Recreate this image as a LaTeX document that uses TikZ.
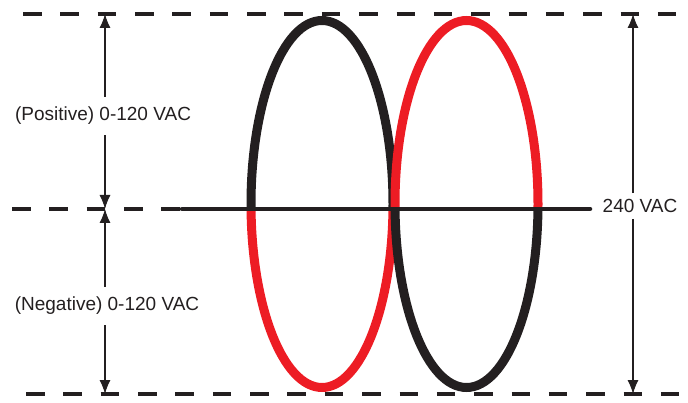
\documentclass[tikz,border=0pt]{standalone}
\usepackage{fontspec}
\setmainfont{Liberation Sans}
\usetikzlibrary{arrows.meta}

\definecolor{phasered}{HTML}{ED1C24}
\definecolor{phaseblack}{HTML}{231F20}

\begin{document}
\begin{tikzpicture}[x=1pt, y=-1pt,
    level/.style={line width=4pt, phaseblack, dash pattern=on 18.5pt off 18.85pt},
    phase/.style={line width=9pt},
    span/.style={line width=1.1pt, phaseblack, -{Latex[length=14pt,width=11pt]}},
    vlabel/.style={font=\fontsize{19}{22}\selectfont, text=phaseblack, inner xsep=2pt, inner ysep=10pt}]

\useasboundingbox (0,0) rectangle (688,403);

% Upper half: black leg on the left, red leg on the right
\begin{scope}
    \clip (0,0) rectangle (688,209);
    \draw[phase, phaseblack] (322,204) ellipse [x radius=71, y radius=183.5];
    \draw[phase, phasered] (466.5,204) ellipse [x radius=71.5, y radius=183.5];
\end{scope}

% Lower half: colours swap
\begin{scope}
    \clip (0,209) rectangle (688,403);
    \draw[phase, phasered] (322,204) ellipse [x radius=71, y radius=183.5];
    \draw[phase, phaseblack] (466.5,204) ellipse [x radius=71.5, y radius=183.5];
\end{scope}

% Reference levels
\draw[level] (23,14) -- (678,14);
\draw[level] (12,209) -- (182,209);
\draw[level] (26,394) -- (680,394);

% Neutral
\draw[line width=4.5pt, phaseblack, line cap=round] (182,209) -- (590,209);

% Voltage spans
\coordinate (pTop) at (105,14);
\coordinate (pMid) at (105,209);
\coordinate (pBot) at (105,394);
\coordinate (tTop) at (633,14);
\coordinate (tBot) at (633,394);

\node[vlabel] (pos) at (103,116) {(Positive) 0-120 VAC};
\node[vlabel] (neg) at (107,306) {(Negative) 0-120 VAC};
\node[vlabel, inner ysep=6pt] (total) at (640,206) {240 VAC};

\draw[span] (pos.north -| pTop) -- (pTop);
\draw[span] (pos.south -| pMid) -- (pMid);
\draw[span] (neg.north -| pMid) -- (pMid);
\draw[span] (neg.south -| pBot) -- (pBot);
\draw[span] (total.north -| tTop) -- (tTop);
\draw[span] (total.south -| tBot) -- (tBot);

\end{tikzpicture}
\end{document}
